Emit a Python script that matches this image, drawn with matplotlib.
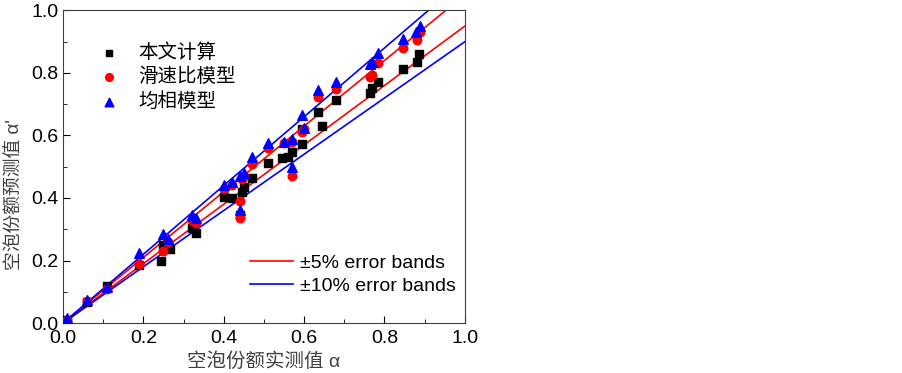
import numpy as np
import matplotlib.pyplot as plt
from matplotlib.ticker import MultipleLocator

plt.rcParams['font.family'] = ['Liberation Sans', 'Noto Sans CJK SC', 'DejaVu Sans']

# measured vs predicted void fraction
calc_x = [0.01, 0.06, 0.11, 0.19, 0.245, 0.25, 0.265, 0.32, 0.33, 0.40, 0.42, 0.44, 0.445, 0.45,
          0.47, 0.51, 0.545, 0.56, 0.57, 0.595, 0.595, 0.635, 0.645, 0.68, 0.765, 0.77, 0.785,
          0.845, 0.88, 0.885]
calc_y = [0.01, 0.067, 0.12, 0.186, 0.20, 0.25, 0.237, 0.304, 0.288, 0.403, 0.40, 0.345, 0.42, 0.435,
          0.463, 0.512, 0.528, 0.53, 0.547, 0.573, 0.62, 0.675, 0.631, 0.714, 0.736, 0.752, 0.771,
          0.813, 0.835, 0.861]

slip_x = [0.01, 0.06, 0.11, 0.19, 0.25, 0.26, 0.32, 0.33, 0.40, 0.42, 0.44, 0.44, 0.445, 0.45,
          0.47, 0.51, 0.55, 0.57, 0.57, 0.595, 0.60, 0.635, 0.68, 0.765, 0.77, 0.785, 0.845, 0.88, 0.888]
slip_y = [0.01, 0.07, 0.11, 0.19, 0.23, 0.26, 0.33, 0.32, 0.43, 0.44, 0.336, 0.39, 0.46, 0.47,
          0.51, 0.56, 0.575, 0.58, 0.47, 0.61, 0.62, 0.723, 0.75, 0.787, 0.795, 0.832, 0.88, 0.906, 0.931]

homo_x = [0.01, 0.06, 0.11, 0.19, 0.25, 0.26, 0.32, 0.33, 0.40, 0.42, 0.44, 0.44, 0.45, 0.47,
          0.51, 0.55, 0.57, 0.57, 0.595, 0.60, 0.635, 0.68, 0.765, 0.77, 0.785, 0.845, 0.878, 0.888]
homo_y = [0.015, 0.075, 0.115, 0.225, 0.285, 0.27, 0.345, 0.335, 0.44, 0.45, 0.36, 0.47, 0.48, 0.53,
          0.575, 0.58, 0.59, 0.50, 0.665, 0.625, 0.745, 0.77, 0.83, 0.835, 0.865, 0.91, 0.93, 0.95]

band5 = [0.95, 1.05]
band10 = [0.9, 1.1]

fig = plt.figure(figsize=(9.03, 3.73), dpi=100)
ax = fig.add_axes([0.0698, 0.134, 0.445, 0.838])

xx = np.array([0.0, 1.0])
l5 = None
for k in band5:
    l5, = ax.plot(xx, k * xx, color='#ff0000', lw=1.2, zorder=2)
l10 = None
for k in band10:
    l10, = ax.plot(xx, k * xx, color='#0000ff', lw=1.2, zorder=2)

s1 = ax.scatter(calc_x, calc_y, marker='s', s=30, color='black', zorder=3, label='本文计算')
s2 = ax.scatter(slip_x, slip_y, marker='o', s=38, color='#ff0000', zorder=4, label='滑速比模型')
s3 = ax.scatter(homo_x, homo_y, marker='^', s=48, color='#0000ff', zorder=5, label='均相模型')

ax.set_xlim(0, 1)
ax.set_ylim(0, 1)
ax.xaxis.set_major_locator(MultipleLocator(0.2))
ax.yaxis.set_major_locator(MultipleLocator(0.2))
ax.xaxis.set_minor_locator(MultipleLocator(0.1))
ax.yaxis.set_minor_locator(MultipleLocator(0.1))
ax.xaxis.set_major_formatter(plt.FormatStrFormatter('%.1f'))
ax.yaxis.set_major_formatter(plt.FormatStrFormatter('%.1f'))
ax.tick_params(which='both', direction='in', top=False, right=False, labelsize=14, colors='black')
ax.tick_params(which='major', length=5)
ax.tick_params(which='minor', length=3)
ax.tick_params(axis='x', pad=5)
for sp in ax.spines.values():
    sp.set_color('#404040')

ax.set_xlabel('空泡份额实测值 α', fontsize=14, color='#404040', labelpad=4)
ax.set_ylabel("空泡份额预测值 α'", fontsize=13.5, color='#404040')
ax.yaxis.set_label_coords(-0.098, 0.41)

leg1 = ax.legend(handles=[s1, s2, s3], loc='center left', bbox_to_anchor=(0.066, 0.787), frameon=False,
                 fontsize=14, handlelength=2.0, handletextpad=0.5, labelspacing=0.3,
                 borderpad=0, borderaxespad=0, markerscale=0.9)
ax.add_artist(leg1)
ax.legend(handles=[l5, l10], labels=['±5% error bands', '±10% error bands'], loc='center left',
          bbox_to_anchor=(0.465, 0.155), frameon=False, fontsize=14, handlelength=2.2,
          handletextpad=0.4, labelspacing=0.3, borderpad=0, borderaxespad=0)

fig.savefig('out.png', dpi=100)
